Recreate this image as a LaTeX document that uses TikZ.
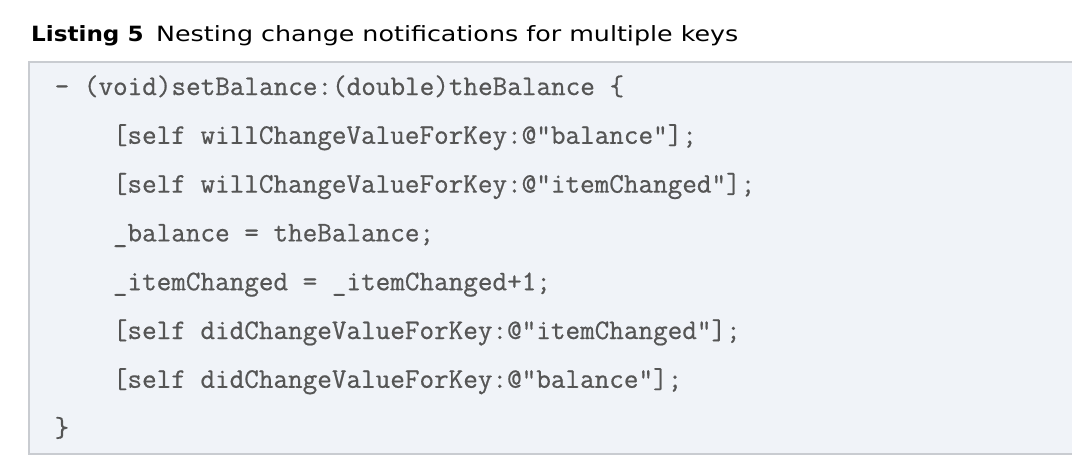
\documentclass[tikz,border=0pt]{standalone}
\usepackage{fontspec}
\setsansfont{DejaVu Sans}
\newfontfamily\codefont{Latin Modern Mono}[AutoFakeBold=0.6]
\definecolor{code_bg}{HTML}{F0F3F8}
\definecolor{code_border}{HTML}{C9CCD1}
\definecolor{code_text}{HTML}{555555}

\begin{document}
\begin{tikzpicture}[x=1pt, y=-1pt,
        titletext/.style={anchor=base west, inner sep=0pt, font=\sffamily\fontsize{21}{21}\selectfont},
        codeline/.style={anchor=base west, inner sep=0pt, text=code_text,
            font=\codefont\bfseries\fontsize{28.35}{28.35}\selectfont}]
            \useasboundingbox (0, 0) rectangle (1072, 464);

            \filldraw [fill=code_bg, draw=code_border, line width=2pt] (29, 62) rectangle (1090, 454);

            \node[titletext] (listnum) at (31, 41.7) {\scalebox{1.10}[1]{\bfseries Listing 5}};
            \node[titletext] (listname) at (156, 41.7) {\scalebox{1.207}[1]{Nesting change notifications for multiple keys}};

            \node[codeline] (c1) at (54.5, 95) {- (void)setBalance:(double)theBalance \{};
            \node[codeline] (c2) at (112.7, 143.8) {[self willChangeValueForKey:@"balance"];};
            \node[codeline] (c3) at (112.7, 192.6) {[self willChangeValueForKey:@"itemChanged"];};
            \node[codeline] (c4) at (112.7, 241.4) {\_balance = theBalance;};
            \node[codeline] (c5) at (112.7, 290.2) {\_itemChanged = \_itemChanged+1;};
            \node[codeline] (c6) at (112.7, 339) {[self didChangeValueForKey:@"itemChanged"];};
            \node[codeline] (c7) at (112.7, 387.8) {[self didChangeValueForKey:@"balance"];};
            \node[codeline] (c8) at (54.5, 436.6) {\}};

        \end{tikzpicture}
\end{document}
